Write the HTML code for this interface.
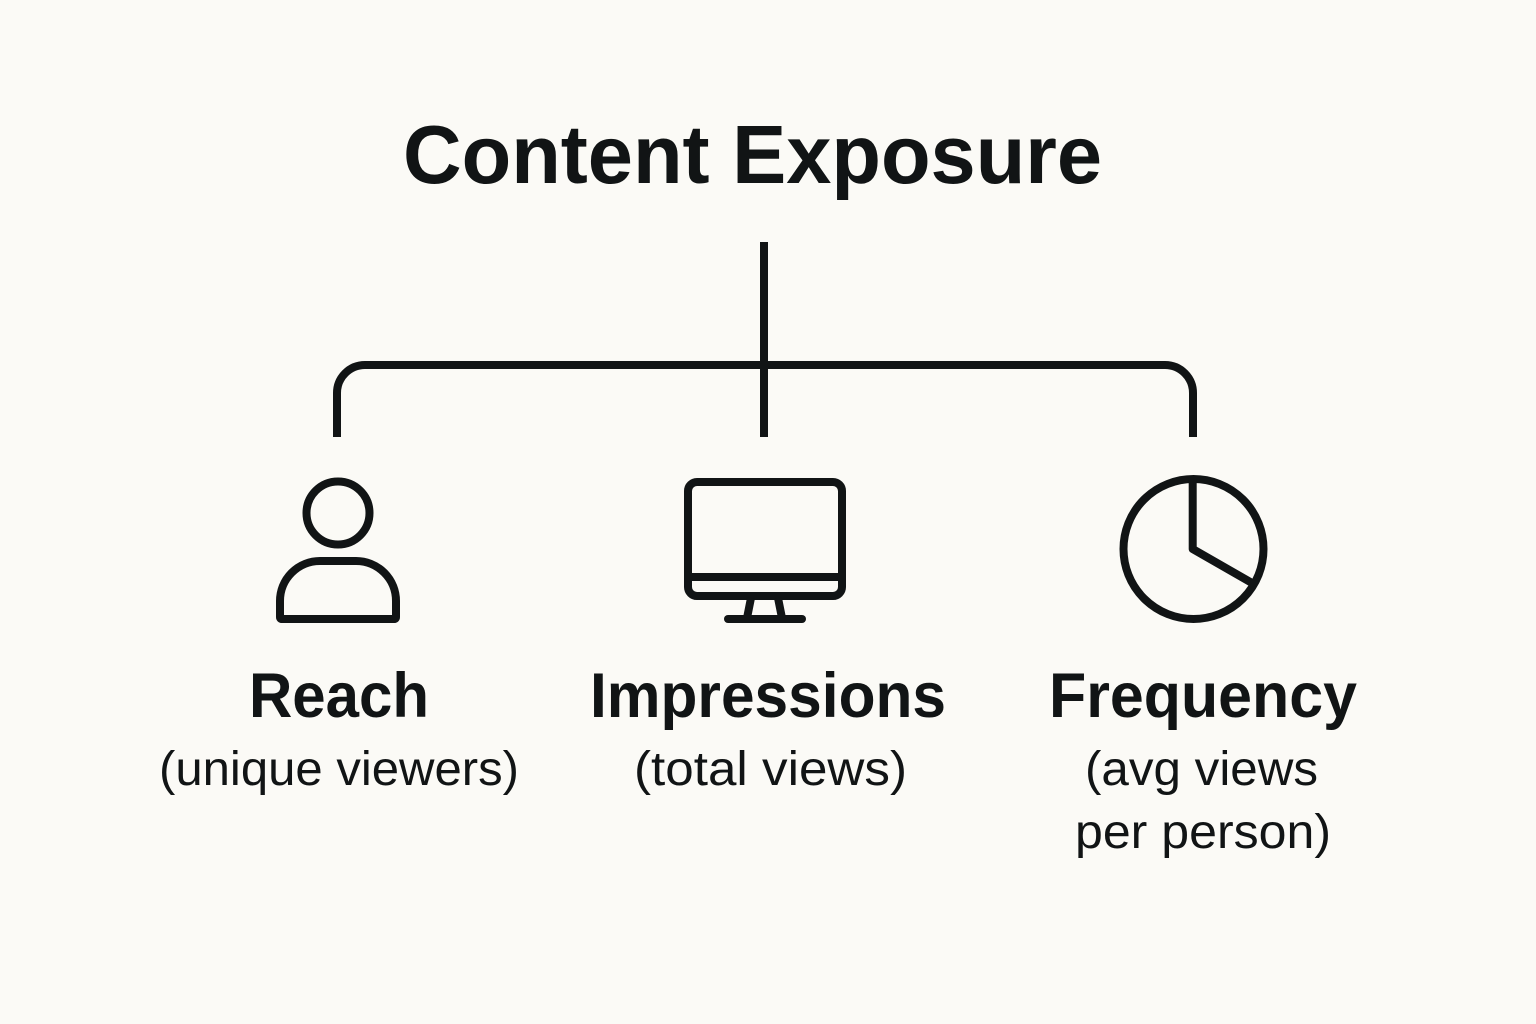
<!DOCTYPE html>
<html><head><meta charset="utf-8"><style>
html,body{margin:0;padding:0;background:#fbfaf6}
svg{display:block}
text{font-family:"Liberation Sans",sans-serif;fill:#111415}
.h{font-weight:700;font-size:63px}
.s{font-size:48px}
</style></head><body>
<svg width="1536" height="1024" viewBox="0 0 1536 1024" xmlns="http://www.w3.org/2000/svg">
<rect width="1536" height="1024" fill="#fbfaf6"/>
<text x="403" y="183" font-size="83" font-weight="700" textLength="699" lengthAdjust="spacingAndGlyphs">Content Exposure</text>
<g fill="none" stroke="#111415" stroke-width="8">
<path d="M764 242V437"/>
<path d="M337 437V393A28 28 0 0 1 365 365H1165A28 28 0 0 1 1193 393V437"/>
<circle cx="338" cy="513" r="31.5"/>
<path d="M280 617V601A40 40 0 0 1 320 561H356A40 40 0 0 1 396 601V617Q396 619 394 619H282Q280 619 280 617Z" stroke-linejoin="round"/>
<rect x="688" y="482" width="154" height="114" rx="9"/>
<path d="M688 577H842"/>
<path d="M751 598L747 618M778 598L782 618"/>
<path d="M728 619H802" stroke-linecap="round"/>
<circle cx="1193.5" cy="549" r="70"/>
<path d="M1192.7 478V549L1252 583" stroke-linejoin="round"/>
</g>
<text class="h" x="249" y="717" textLength="180" lengthAdjust="spacingAndGlyphs">Reach</text>
<text class="h" x="590" y="717" textLength="356" lengthAdjust="spacingAndGlyphs">Impressions</text>
<text class="h" x="1049" y="717" textLength="308" lengthAdjust="spacingAndGlyphs">Frequency</text>
<text class="s" x="159" y="785" textLength="360" lengthAdjust="spacingAndGlyphs">(unique viewers)</text>
<text class="s" x="634" y="785" textLength="273" lengthAdjust="spacingAndGlyphs">(total views)</text>
<text class="s" x="1085" y="785" textLength="233" lengthAdjust="spacingAndGlyphs">(avg views</text>
<text class="s" x="1075" y="848" textLength="256" lengthAdjust="spacingAndGlyphs">per person)</text>
</svg>
</body></html>
